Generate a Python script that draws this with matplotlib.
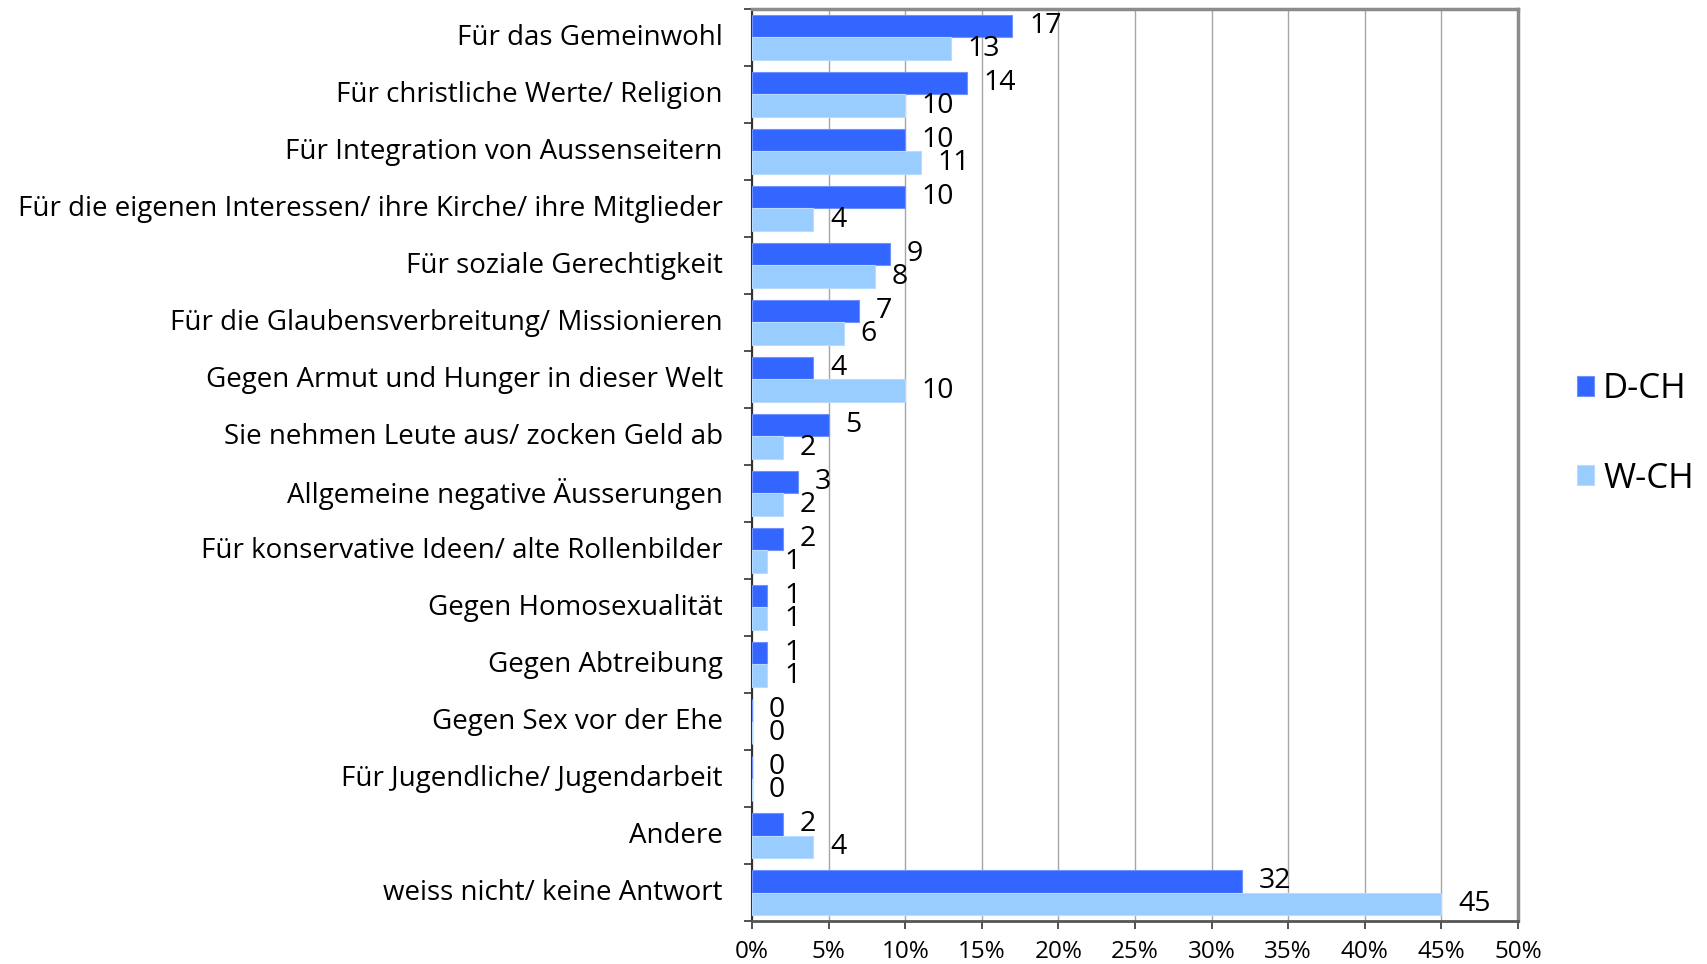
import numpy as np
import matplotlib
matplotlib.use("Agg")
import matplotlib.pyplot as plt
import matplotlib.transforms as mtransforms
from matplotlib.ticker import FixedLocator, NullFormatter

plt.rcParams['font.family'] = ['Open Sans', 'DejaVu Sans']

categories = [
    "Für das Gemeinwohl",
    "Für christliche Werte/ Religion",
    "Für Integration von Aussenseitern",
    "Für die eigenen Interessen/ ihre Kirche/ ihre Mitglieder",
    "Für soziale Gerechtigkeit",
    "Für die Glaubensverbreitung/ Missionieren",
    "Gegen Armut und Hunger in dieser Welt",
    "Sie nehmen Leute aus/ zocken Geld ab",
    "Allgemeine negative Äusserungen",
    "Für konservative Ideen/ alte Rollenbilder",
    "Gegen Homosexualität",
    "Gegen Abtreibung",
    "Gegen Sex vor der Ehe",
    "Für Jugendliche/ Jugendarbeit",
    "Andere",
    "weiss nicht/ keine Antwort",
]
d_ch = [17, 14, 10, 10, 9, 7, 4, 5, 3, 2, 1, 1, 0, 0, 2, 32]
w_ch = [13, 10, 11, 4, 8, 6, 10, 2, 2, 1, 1, 1, 0, 0, 4, 45]
xticks = [0, 5, 10, 15, 20, 25, 30, 35, 40, 45, 50]
xticklabels = ["%d%%" % t for t in xticks]

fig = plt.figure(figsize=(17.08, 9.64), dpi=100)
ax = fig.add_axes([0.4403, 0.0446, 0.4485, 0.9461])

y = np.arange(len(categories))
h = 0.4
b1 = ax.barh(y - h / 2, d_ch, height=h, color="#3366FF", edgecolor="#6f92ff",
             linewidth=0.8, label="D-CH", zorder=3)
b2 = ax.barh(y + h / 2, w_ch, height=h, color="#99CCFF", edgecolor="#b8dbff",
             linewidth=0.8, label="W-CH", zorder=3)

for bars, vals in ((b1, d_ch), (b2, w_ch)):
    for bar, v in zip(bars, vals):
        ax.annotate(str(v), (bar.get_width(), bar.get_y() + bar.get_height() / 2),
                    xytext=(12, 0), textcoords="offset points",
                    ha="left", va="center", fontsize=20.5, color="black", zorder=4)

ax.set_xlim(0, 50)
ax.set_ylim(len(categories) - 0.5, -0.5)
ax.set_xticks(xticks)
ax.set_xticklabels(xticklabels, fontsize=17.5)
ax.xaxis.grid(True, color="#a6a6a6", linewidth=1.0, zorder=0)

ax.yaxis.set_major_locator(FixedLocator(np.arange(-0.5, len(categories), 1.0)))
ax.yaxis.set_major_formatter(NullFormatter())
ax.yaxis.set_minor_locator(FixedLocator(y))
ax.set_yticklabels(categories, minor=True, fontsize=20)
ax.tick_params(axis="y", which="major", length=6, width=1.2, color="#333333")
ax.tick_params(axis="y", which="minor", length=0, pad=21)
ax.tick_params(axis="x", length=6, width=1.2, color="#333333", pad=8)

# category labels sit a touch above the group centre in the original
shift = mtransforms.ScaledTranslation(0, 3 / 100, fig.dpi_scale_trans)
for lab in ax.get_yticklabels(minor=True):
    lab.set_transform(lab.get_transform() + shift)

ax.spines["left"].set_color("#333333")
ax.spines["left"].set_linewidth(1.5)
ax.spines["bottom"].set_color("#555555")
ax.spines["bottom"].set_linewidth(2.0)
ax.spines["top"].set_color("#8c8c8c")
ax.spines["top"].set_linewidth(2.5)
ax.spines["right"].set_color("#8c8c8c")
ax.spines["right"].set_linewidth(2.5)

fig.legend(handles=[b1, b2], loc="center left", bbox_to_anchor=(0.905, 0.55),
           frameon=False, fontsize=25, handlelength=0.5, handleheight=0.5,
           handletextpad=0.25, labelspacing=1.6)

fig.savefig("out.png", dpi=100)
